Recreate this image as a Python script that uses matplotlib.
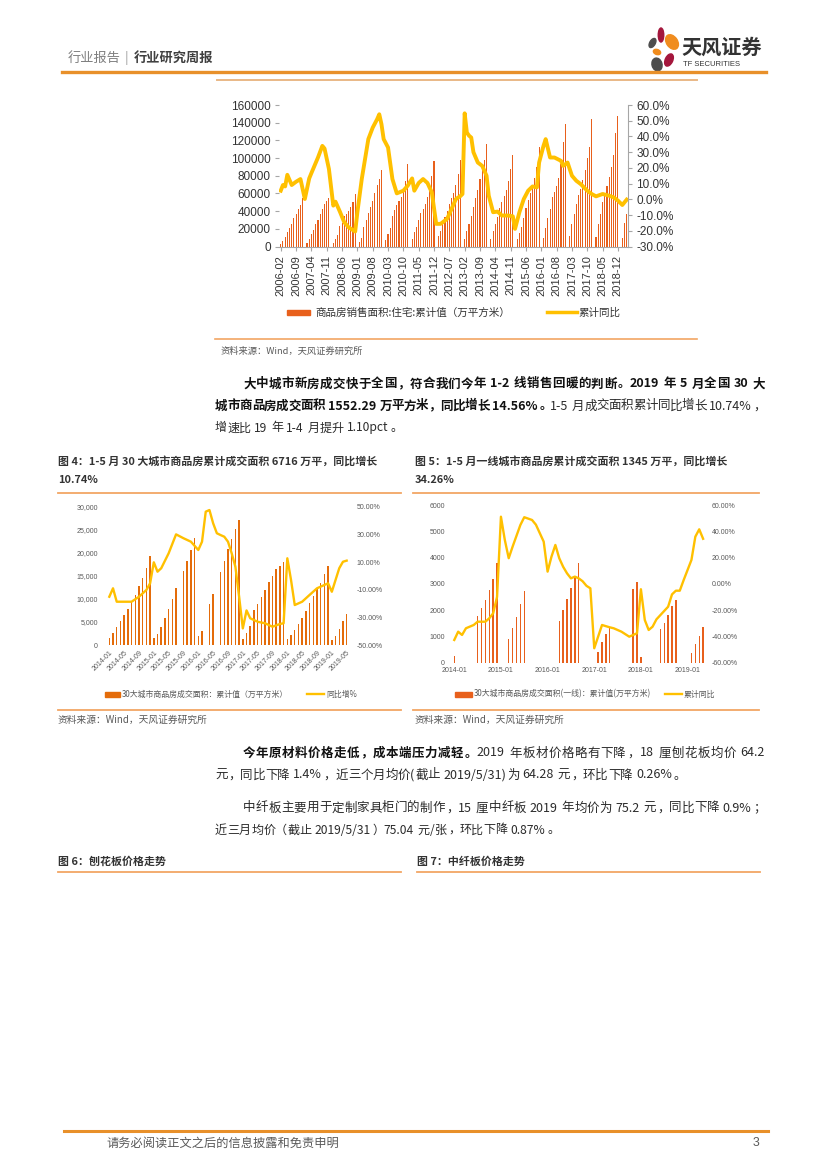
import re
import numpy as np
import matplotlib.pyplot as plt
from matplotlib.patches import Rectangle, Ellipse
from matplotlib.lines import Line2D

CJK = ['Noto Sans CJK SC', 'DejaVu Sans']
NUM = ['Liberation Sans', 'Noto Sans CJK SC', 'DejaVu Sans']
plt.rcParams['font.family'] = NUM

# ---- 商品房销售面积:住宅:累计值（万平方米），每年 2-12 月 ----
sales_years = [2006, 2007, 2008, 2009, 2010, 2011, 2012, 2013, 2014, 2015, 2016, 2017, 2018, 2019]
sales_2006 = [3000, 6000, 11000, 16000, 21000, 25000, 32000, 37000, 42000, 47000, 55000]
sales_2007 = [4000, 9000, 14000, 19000, 25000, 30000, 37000, 42000, 48000, 51000, 55000]
sales_2008 = [4000, 8000, 13000, 23000, 27000, 35000, 37000, 40000, 45000, 50000, 59000]
sales_2009 = [5000, 10000, 22000, 30000, 38000, 45000, 52000, 61000, 69000, 76000, 87000]
sales_2010 = [7000, 14000, 21000, 35000, 41000, 47000, 51000, 56000, 65000, 74000, 93000]
sales_2011 = [9000, 16000, 22000, 30000, 38000, 42000, 48000, 56000, 65000, 80000, 97000]
sales_2012 = [12000, 18000, 26000, 33000, 40000, 48000, 55000, 60000, 70000, 82000, 98000]
sales_2013 = [8000, 17000, 26000, 35000, 45000, 55000, 64000, 76000, 88000, 98000, 116000]
sales_2014 = [8000, 18000, 25000, 33000, 43000, 50000, 57000, 64000, 74000, 88000, 104000]
sales_2015 = [8000, 15000, 22000, 32000, 43000, 53000, 60000, 68000, 78000, 90000, 112000]
sales_2016 = [10000, 21000, 32000, 42000, 56000, 62000, 68000, 78000, 93000, 118000, 138000]
sales_2017 = [12000, 25000, 37000, 48000, 58000, 65000, 75000, 86000, 100000, 113000, 144000]
sales_2018 = [11000, 25000, 37000, 50000, 61000, 68000, 79000, 90000, 103000, 128000, 148000]
sales_2019 = [10000, 27000, 37000]
sales_values = [sales_2006, sales_2007, sales_2008, sales_2009, sales_2010, sales_2011, sales_2012,
                sales_2013, sales_2014, sales_2015, sales_2016, sales_2017, sales_2018, sales_2019]

# ---- 累计同比（%） ----
yoy_months = ['2006-02', '2006-03', '2006-04', '2006-05', '2006-07', '2006-09', '2006-11', '2007-01',
              '2007-03', '2007-04', '2007-07', '2007-09', '2007-10', '2007-12', '2008-02', '2008-03',
              '2008-05', '2008-07', '2008-09', '2008-12', '2009-01', '2009-03', '2009-06', '2009-08',
              '2009-10', '2009-11', '2009-12', '2010-01', '2010-03', '2010-05', '2010-07', '2010-10',
              '2010-12', '2011-02', '2011-03', '2011-05', '2011-07', '2011-09', '2011-11', '2012-01',
              '2012-03', '2012-06', '2012-08', '2012-10', '2012-12', '2013-01', '2013-02', '2013-03',
              '2013-04', '2013-05', '2013-06', '2013-08', '2013-10', '2013-12', '2014-01', '2014-03',
              '2014-05', '2014-07', '2014-10', '2014-12', '2015-01', '2015-03', '2015-05', '2015-07',
              '2015-09', '2015-11', '2015-12', '2016-02', '2016-03', '2016-05', '2016-07', '2016-10',
              '2016-11', '2017-01', '2017-03', '2017-05', '2017-07', '2017-10', '2017-12', '2018-02',
              '2018-05', '2018-08', '2018-10', '2018-12', '2019-02', '2019-04']
yoy_values = [5.5, 9.1, 8.2, 15.6, 9.1, 11.2, 12.9, 0.2,
              13.3, 16.7, 26.6, 34.0, 32.3, 19.3, -4.0, -1.5,
              -7.8, -14.6, -17.8, -20.5, -8.2, 12.9, 38.3, 45.6,
              50.9, 54.1, 47.8, 38.3, 33.0, 12.9, 3.8, 5.5,
              8.7, 13.3, 5.5, 10.4, 12.9, 10.4, 4.4, -15.6,
              -15.6, -12.4, -6.1, 0.2, 2.0, 3.4, 54.7, 42.5,
              40.5, 39.3, 30.0, 23.4, 21.3, 15.0, 2.3, -8.2,
              -7.8, -10.3, -10.3, -10.8, -18.8, -8.2, 0.2, 5.5,
              8.2, 7.6, 23.4, 34.0, 38.3, 26.6, 26.6, 24.5,
              21.3, 23.4, 15.0, 11.8, 9.7, 5.5, 3.4, 1.9,
              3.4, 2.3, 1.3, -0.8, -3.6, -0.2]

# ---- 图4：30大城市商品房成交面积：累计值（万平方米），1-12 月 ----
city30_years = [2014, 2015, 2016, 2017, 2018, 2019]
city30_2014 = [1500, 2500, 3800, 5300, 6600, 7900, 9500, 10800, 12700, 14600, 16600, 19200]
city30_2015 = [1600, 2400, 4000, 5800, 7800, 10000, 12300, np.nan, 16100, 18300, 20700, 23200]
city30_2016 = [2000, 3100, np.nan, 8800, 11100, np.nan, 15800, 18300, 20800, 23000, 25200, 27200]
city30_2017 = [1200, 2500, 4200, 7500, 9000, 10500, 12000, 13600, 14900, 16400, 17200, 18100]
city30_2018 = [1200, 2200, 3300, 4600, 5900, 7400, 9200, 10700, 12300, 13500, 15300, 17200]
city30_2019 = [1100, 2000, 3500, 5100, 6700]
city30_values = [city30_2014, city30_2015, city30_2016, city30_2017, city30_2018, city30_2019]

city30_yoy_months = ['2014-01', '2014-02', '2014-03', '2014-05', '2014-07', '2014-09', '2014-11', '2014-12',
                     '2015-01', '2015-02', '2015-03', '2015-05', '2015-07', '2015-09', '2015-11', '2016-01',
                     '2016-02', '2016-03', '2016-04', '2016-05', '2016-06', '2016-07', '2016-08', '2016-09',
                     '2016-10', '2016-11', '2016-12', '2017-01', '2017-02', '2017-03', '2017-05', '2017-07',
                     '2017-09', '2017-11', '2017-12', '2018-01', '2018-02', '2018-03', '2018-05', '2018-07',
                     '2018-09', '2018-11', '2018-12', '2019-01', '2019-02', '2019-03', '2019-04', '2019-05']
city30_yoy = [-15.1, -9.0, -18.7, -18.7, -18.7, -15.1, -10.2, -5.4,
              9.8, 3.0, 5.5, 16.3, 30.0, 27.2, 24.7, 18.7,
              24.7, 46.4, 47.6, 38.0, 30.8, 29.5, 28.3, 24.7,
              16.3, 6.6, -15.0, -38.0, -25.0, -30.7, -33.2, -34.3,
              -36.8, -34.8, -34.3, 12.7, -3.0, -21.1, -18.7, -13.8,
              -9.0, -6.6, -5.4, -11.5, -3.0, 5.5, 10.2, 11.0]

# ---- 图5：30大城市商品房成交面积(一线)：累计值（万平方米） ----
tier1_months = ['2014-01', '2014-07', '2014-08', '2014-09', '2014-10', '2014-11', '2014-12',
                '2015-03', '2015-04', '2015-05', '2015-06', '2015-07',
                '2016-04', '2016-05', '2016-06', '2016-07', '2016-08', '2016-09',
                '2017-02', '2017-03', '2017-04', '2017-05', '2017-11', '2017-12', '2018-01',
                '2018-06', '2018-07', '2018-08', '2018-09', '2018-10',
                '2019-02', '2019-03', '2019-04', '2019-05']
tier1_area = [270, 1780, 2070, 2390, 2770, 3190, 3800,
              900, 1310, 1750, 2230, 2740,
              1600, 2000, 2410, 2850, 3300, 3780,
              400, 800, 1080, 1310, 2790, 3080, 230,
              1270, 1520, 1810, 2170, 2390,
              360, 710, 1020, 1345]

tier1_yoy_months = ['2014-01', '2014-02', '2014-03', '2014-04', '2014-06', '2014-07', '2014-09', '2014-10',
                    '2014-11', '2014-12', '2015-01', '2015-02', '2015-03', '2015-04', '2015-06', '2015-07',
                    '2015-09', '2015-10', '2015-12', '2016-01', '2016-02', '2016-03', '2016-04', '2016-05',
                    '2016-06', '2016-07', '2016-08', '2016-09', '2016-10', '2016-11', '2016-12', '2017-01',
                    '2017-03', '2017-05', '2017-06', '2017-08', '2017-10', '2017-12', '2018-01', '2018-02',
                    '2018-03', '2018-04', '2018-05', '2018-08', '2018-09', '2018-10', '2018-11', '2018-12',
                    '2019-02', '2019-03', '2019-04', '2019-05']
tier1_yoy = [-42.7, -36.4, -38.9, -33.8, -31.3, -28.8, -28.8, -26.2,
             -22.4, -10.0, 51.1, 33.4, 19.5, 28.3, 44.8, 50.7,
             48.6, 45.0, 32.1, 9.3, 20.7, 29.6, 19.5, 13.0,
             8.0, 4.2, 5.5, 4.2, 2.0, -1.5, -3.4, -49.0,
             -31.3, -33.1, -33.8, -36.4, -40.2, -37.6, -4.1, -27.5,
             -35.1, -32.6, -27.0, -17.4, -8.0, -5.2, -5.2, 2.9,
             18.2, 35.9, 41.5, 34.3]

BAR1 = '#E8601C'
LINE = '#FFC000'
GRAY = '#595959'

W, H = 827, 1170
fig = plt.figure(figsize=(8.27, 11.70), dpi=100)
renderer = fig.canvas.get_renderer()


def fx(x):
    return x / W


def fy(y):
    return 1 - y / H


def midx(label, y0, m0):
    y, m = label.split('-')
    return (int(y) - y0) * 12 + int(m) - m0


def txt(x, y, s, size=9, color='#333333', weight='normal', ha='left', family=CJK):
    return fig.text(fx(x), fy(y), s, fontsize=size, color=color, fontweight=weight,
                    ha=ha, va='center', family=family)


def hline(x0, x1, y, color, lw):
    fig.add_artist(Line2D([fx(x0), fx(x1)], [fy(y), fy(y)], color=color, lw=lw))


def add_ax(l, t, r, b):
    return fig.add_axes([fx(l), fy(b), (r - l) / W, (b - t) / H])


PUNCT_L = '，。、；：）'
PUNCT_R = '（'


def text_line(x0, y, runs, size=9, x1=None):
    # 正文行：汉字占一个全角格（字居中），西文按实测宽度；两端对齐时余量均分
    em = size * 100 / 72
    items = []
    for s, bold in runs:
        for tok in re.findall(r'[\x21-\x7e]+| |.', s):
            items.append((tok, bold))
    objs, widths = [], []
    for tok, bold in items:
        if tok == ' ':
            objs.append(None)
            widths.append(em * 0.25)
            continue
        wide = ord(tok[0]) > 0x2000
        if wide and tok in PUNCT_L:
            ha = 'left'
        elif wide and tok in PUNCT_R:
            ha = 'right'
        elif wide:
            ha = 'center'
        else:
            ha = 'left'
        t = fig.text(0, fy(y), tok, fontsize=size, family=CJK,
                     fontweight='bold' if bold else 'normal',
                     color='#111111' if bold else '#2b2b2b', va='center', ha=ha)
        objs.append(t)
        if wide:
            widths.append(em)
        else:
            widths.append(t.get_window_extent(renderer=renderer).width + em * 0.06)
    gap = 0
    if x1 is not None and len(items) > 1:
        gap = (x1 - x0 - sum(widths)) / (len(items) - 1)
    x = x0
    for t, w in zip(objs, widths):
        if t is not None:
            ha = t.get_ha()
            if ha == 'center':
                t.set_x(fx(x + w / 2))
            elif ha == 'right':
                t.set_x(fx(x + w * 0.92))
            elif ord(t.get_text()[0]) > 0x2000:
                t.set_x(fx(x + w * 0.08))
            else:
                t.set_x(fx(x))
        x += w + gap


def legend_bar(x, y, w, color):
    fig.add_artist(Rectangle((fx(x), fy(y + 2.5)), w / W, 5 / H, color=color, transform=fig.transFigure))


def legend_line(x, y, w, color, lw):
    fig.add_artist(Line2D([fx(x), fx(x + w)], [fy(y), fy(y)], color=color, lw=lw))


# ---------------- 页眉 ----------------
txt(68, 58, '行业报告', size=9.5, color='#7f7f7f')
txt(125, 58, '|', size=9.5, color='#9f9f9f')
txt(134, 58, '行业研究周报', size=9.5, color='#404040', weight='bold')
hline(62, 766, 72, '#E8902A', 2.4)

axl = add_ax(645, 24, 685, 76)
axl.set_xlim(645, 685)
axl.set_ylim(76, 24)
axl.axis('off')
petals = [((661, 35), 5.5, 14, 0, '#A4163C'), ((672, 42), 11, 16, -35, '#F08C1E'),
          ((652.5, 43), 5.5, 10, 30, '#4D4D4D'), ((657, 52), 7.5, 5, 20, '#F08C1E'),
          ((669, 60), 7.5, 13, 25, '#A4163C'), ((657, 64.5), 10, 13, -15, '#4D4D4D')]
for c, w, h, a, col in petals:
    axl.add_patch(Ellipse(c, w, h, angle=a, color=col))
txt(681, 47, '天风证券', size=14.5, color='#333333', weight='bold')
txt(683, 64, 'TF SECURITIES', size=5.5, color='#333333', family=NUM)

# ---------------- 图：商品房销售面积 ----------------
hline(217, 697, 80, '#E9B886', 1.4)
ax1 = add_ax(279, 105, 628, 246.5)
for yr, vals in zip(sales_years, sales_values):
    idx = [(yr - 2006) * 12 + k for k in range(len(vals))]
    ax1.bar(idx, vals, width=0.5, color=BAR1, linewidth=0)
ax1.set_xlim(-0.8, 158.6)
ax1.set_ylim(0, 160000)
ax1.set_yticks(range(0, 160001, 20000))
ax1.set_yticklabels([str(v) for v in range(0, 160001, 20000)])
xt = list(range(0, 155, 7))
ax1.set_xticks(xt)
ax1.set_xticklabels([f'{2006 + (i + 1) // 12}-{(i + 1) % 12 + 1:02d}' for i in xt], rotation=90)
ax1.tick_params(axis='y', length=3, width=0.8, color='#A6A6A6', labelsize=8.5, pad=3, labelcolor='#333333')
ax1.tick_params(axis='x', length=3, width=0.8, color='#A6A6A6', labelsize=8, pad=3, labelcolor='#333333')
for s in ['top', 'left', 'right']:
    ax1.spines[s].set_visible(False)
ax1.spines['bottom'].set_color('#A6A6A6')
ax1.spines['bottom'].set_linewidth(0.8)

ax1r = ax1.twinx()
ax1r.plot([midx(m, 2006, 2) for m in yoy_months], yoy_values, color=LINE, lw=2.8, solid_joinstyle='round')
ax1r.set_ylim(-30, 60)
ax1r.set_yticks(range(-30, 61, 10))
ax1r.set_yticklabels([f'{v:.1f}%' for v in range(-30, 61, 10)])
ax1r.tick_params(axis='y', length=3, width=0.8, color='#A6A6A6', labelsize=8.5, pad=3, labelcolor='#333333')
for s in ['top', 'left', 'bottom']:
    ax1r.spines[s].set_visible(False)
ax1r.spines['right'].set_color('#A6A6A6')
ax1r.spines['right'].set_linewidth(0.8)

legend_bar(287, 312.5, 23, BAR1)
txt(315, 312.5, '商品房销售面积:住宅:累计值（万平方米）', size=7.6, color='#333333')
legend_line(547, 312.5, 30, LINE, 2.5)
txt(578, 312.5, '累计同比', size=7.6, color='#333333')
hline(215, 697, 339, '#F2A664', 1.2)
txt(221, 351, '资料来源：Wind，天风证券研究所', size=6.7, color='#595959')

# ---------------- 正文 1 ----------------
text_line(243, 384, [('大中城市新房成交快于全国，符合我们今年 1-2 线销售回暖的判断。2019 年 5 月全国 30 大', True)], x1=765)
text_line(215, 406, [('城市商品房成交面积 1552.29 万平方米，同比增长 14.56%。', True),
                     ('1-5 月成交面积累计同比增长 10.74%，', False)], x1=765)
text_line(215, 428, [('增速比 19 年 1-4 月提升 1.10pct。', False)], size=8.7)

# ---------------- 图4 / 图5 标题 ----------------
txt(58, 461, '图 4：1-5 月 30 大城市商品房累计成交面积 6716 万平，同比增长', size=7.9, color='#333333', weight='bold')
txt(58, 480, '10.74%', size=7.9, color='#333333', weight='bold')
txt(415, 461, '图 5：1-5 月一线城市商品房累计成交面积 1345 万平，同比增长', size=7.9, color='#333333', weight='bold')
txt(415, 480, '34.26%', size=7.9, color='#333333', weight='bold')
for a, b in [(58, 401), (413, 759)]:
    hline(a, b, 493, '#F2A664', 1.3)
    hline(a, b, 710, '#F2A664', 1.3)
txt(58, 720, '资料来源：Wind，天风证券研究所', size=7, color='#595959')
txt(415, 720, '资料来源：Wind，天风证券研究所', size=7, color='#595959')

# ---------------- 图4 ----------------
ax4 = add_ax(104, 506.7, 350, 645)
for yr, vals in zip(city30_years, city30_values):
    idx = [(yr - 2014) * 12 + k for k in range(len(vals))]
    ax4.bar(idx, vals, width=0.4, color='#E46C0A', linewidth=0)
ax4.set_xlim(-1.43, 64.9)
ax4.set_ylim(0, 30000)
ax4.set_yticks(range(0, 30001, 5000))
ax4.set_yticklabels([f'{v:,}' for v in range(0, 30001, 5000)])
xt4 = list(range(0, 65, 4))
ax4.set_xticks(xt4)
ax4.set_xticklabels([f'{2014 + i // 12}-{i % 12 + 1:02d}' for i in xt4], rotation=45, ha='right',
                    rotation_mode='anchor')
ax4.tick_params(axis='both', length=0, labelsize=5, labelcolor=GRAY)
ax4.tick_params(axis='y', pad=4.3)
ax4.tick_params(axis='x', pad=3)
for s in ax4.spines.values():
    s.set_visible(False)
ax4r = ax4.twinx()
ax4r.plot([midx(m, 2014, 1) for m in city30_yoy_months], city30_yoy, color=LINE, lw=1.7)
ax4r.set_ylim(-50, 50)
ax4r.set_yticks(range(-50, 51, 20))
ax4r.set_yticklabels([f'{v:.2f}%' for v in range(-50, 51, 20)])
ax4r.tick_params(axis='y', length=0, labelsize=5, labelcolor=GRAY, pad=5)
for s in ax4r.spines.values():
    s.set_visible(False)
legend_bar(105, 694, 15, '#E46C0A')
txt(122, 694, '30大城市商品房成交面积：累计值（万平方米）', size=5.7, color=GRAY)
legend_line(307, 694, 17, LINE, 1.7)
txt(326, 694, '同比增%', size=5.7, color=GRAY)

# ---------------- 图5 ----------------
ax5 = add_ax(450, 505, 707, 662.7)
ax5.bar([midx(m, 2014, 1) for m in tier1_months], tier1_area, width=0.36, color=BAR1, linewidth=0)
ax5.set_xlim(-1.1, 65.0)
ax5.set_ylim(0, 6000)
ax5.set_yticks(range(0, 6001, 1000))
ax5.set_yticklabels([str(v) for v in range(0, 6001, 1000)])
xt5 = list(range(0, 61, 12))
ax5.set_xticks(xt5)
ax5.set_xticklabels([f'{2014 + i // 12}-01' for i in xt5])
ax5.tick_params(axis='both', length=0, labelsize=5, labelcolor=GRAY)
ax5.tick_params(axis='y', pad=3.6)
ax5.tick_params(axis='x', pad=3)
for s in ax5.spines.values():
    s.set_visible(False)
ax5r = ax5.twinx()
ax5r.plot([midx(m, 2014, 1) for m in tier1_yoy_months], tier1_yoy, color=LINE, lw=1.7)
ax5r.set_ylim(-60, 60)
ax5r.set_yticks(range(-60, 61, 20))
ax5r.set_yticklabels([f'{v:.2f}%' for v in range(-60, 61, 20)])
ax5r.tick_params(axis='y', length=0, labelsize=5, labelcolor=GRAY, pad=3.6)
for s in ax5r.spines.values():
    s.set_visible(False)
legend_bar(455, 694, 17, BAR1)
txt(474, 694, '30大城市商品房成交面积(一线)：累计值(万平方米)', size=5.7, color=GRAY)
legend_line(665, 694, 17, LINE, 1.7)
txt(684, 694, '累计同比', size=5.7, color=GRAY)

# ---------------- 正文 2 ----------------
text_line(243, 753, [('今年原材料价格走低，成本端压力减轻。', True),
                     ('2019 年板材价格略有下降，18 厘刨花板均价 64.2', False)], x1=765)
text_line(215, 775, [('元，同比下降 1.4%，近三个月均价(截止 2019/5/31)为 64.28 元，环比下降 0.26%。', False)])
text_line(243, 808, [('中纤板主要用于定制家具柜门的制作，15 厘中纤板 2019 年均价为 75.2 元，同比下降 0.9%；', False)], x1=765)
text_line(215, 830, [('近三月均价（截止 2019/5/31）75.04 元/张，环比下降 0.87%。', False)], size=8.7)

txt(58, 862, '图 6：刨花板价格走势', size=7.9, color='#333333', weight='bold')
txt(417, 862, '图 7：中纤板价格走势', size=7.9, color='#333333', weight='bold')
hline(58, 401, 872, '#F2A664', 1.3)
hline(417, 760, 872, '#F2A664', 1.3)

# ---------------- 页脚 ----------------
hline(64, 768, 1131, '#E8902A', 2.2)
txt(106, 1143, '请务必阅读正文之后的信息披露和免责申明', size=8.8, color='#595959')
txt(759, 1143, '3', size=8.8, color='#595959', ha='right', family=NUM)

fig.savefig('out.png', dpi=100)
